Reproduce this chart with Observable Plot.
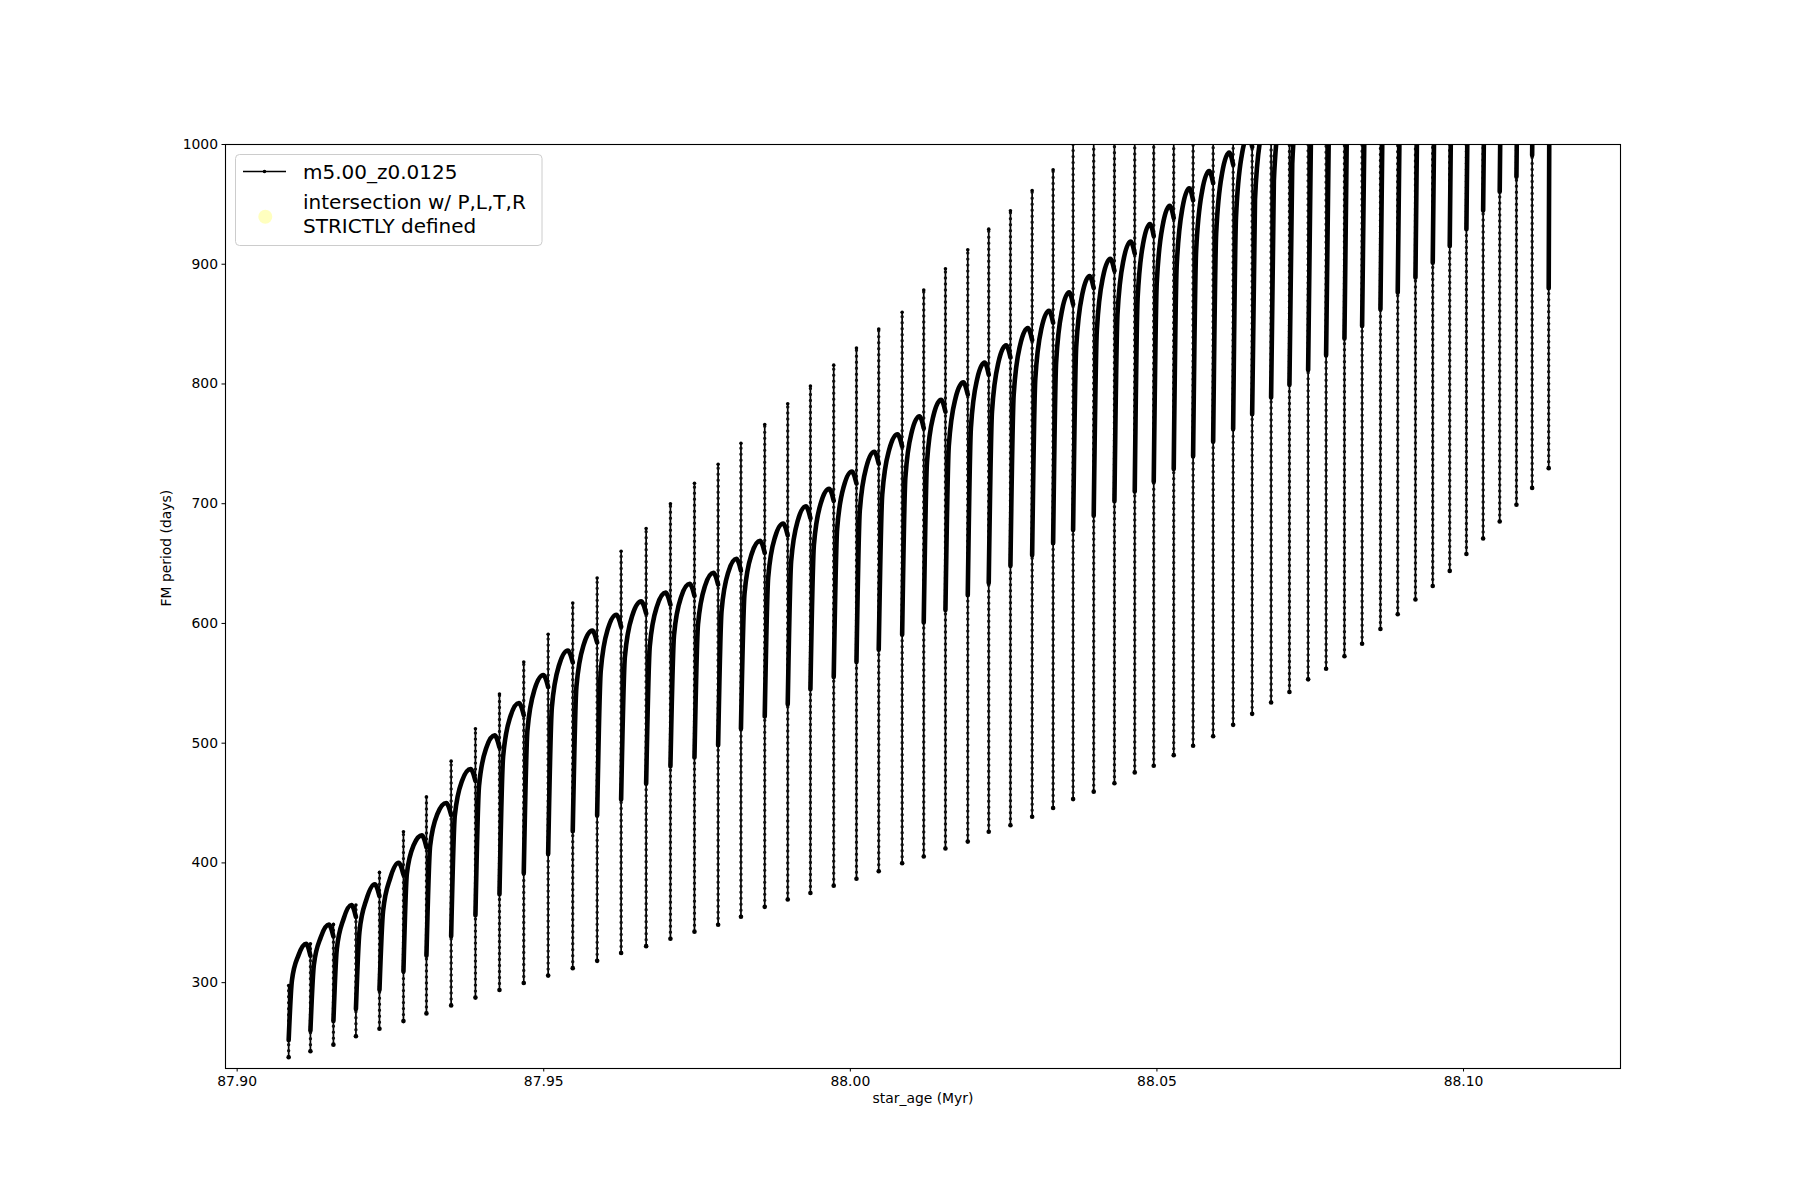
<!DOCTYPE html>
<html>
<head>
<meta charset="utf-8">
<script src="https://cdn.jsdelivr.net/npm/d3@7"></script>
<script src="https://cdn.jsdelivr.net/npm/@observablehq/plot@0.6"></script>
<style>
  html, body { margin: 0; padding: 0; background: #ffffff; }
  #chart { width: 1800px; height: 1200px; }
</style>
</head>
<body>
<div id="chart"></div>
<script>
// ---- Data (star_age in Myr, FM period in days) ----
// Age of each pulse (the vertical drop of the period), first entry = first model.
const pulseAge = [87.90840, 87.91195, 87.91570, 87.91937, 87.92321, 87.92712, 87.93087, 87.93490, 87.93886, 87.94278,
  87.94674, 87.95072, 87.95473, 87.95871, 87.96262, 87.96670, 87.97066, 87.97458, 87.97844, 87.98216,
  87.98604, 87.98979, 87.99349, 87.99729, 88.00100, 88.00463, 88.00845, 88.01197, 88.01551, 88.01915,
  88.02257, 88.02611, 88.02965, 88.03307, 88.03633, 88.03969, 88.04307, 88.04638, 88.04948, 88.05274,
  88.05590, 88.05917, 88.06243, 88.06553, 88.06862, 88.07161, 88.07466, 88.07759, 88.08058, 88.08346,
  88.08645, 88.08927, 88.09216, 88.09498, 88.09775, 88.10047, 88.10320, 88.10590, 88.10863, 88.11119,
  88.11389];
const lastAge = 88.1152;
// Minimum period reached after each pulse
const minP = [237.7, 242.7, 248.2, 255.2, 261.5, 267.9, 274.3, 281.0, 287.5, 293.9,
  299.7, 305.9, 312.1, 318.2, 324.7, 330.5, 336.7, 342.6, 348.4, 355.0,
  363.3, 369.5, 374.9, 381.0, 386.8, 393.0, 399.7, 405.4, 412.0, 417.8,
  426.0, 431.5, 438.5, 445.9, 453.3, 459.5, 466.5, 475.6, 481.2, 490.0,
  497.8, 505.8, 515.3, 524.5, 534.0, 542.8, 553.3, 562.1, 572.6, 583.1,
  595.4, 607.7, 620.0, 631.3, 643.9, 658.0, 671.0, 685.1, 699.1, 713.2, 729.7];
// Top of the short excursion at each pulse
const spikeP = [297.6, 332.4, 348.5, 364.8, 392, 426, 455, 485, 512, 541,
  567.7, 591, 617, 638, 660.3, 679.3, 700, 717, 733, 750.4,
  766.1, 783.5, 798.3, 815.7, 830.1, 845.9, 859.9, 878.5, 896.2, 912.0,
  929.3, 944.6, 961.6, 978.9, 1010, 1027, 1044, 1061, 1078, 1095,
  1112, 1129, 1146, 1163, 1180, 1197, 1214, 1231, 1248, 1265,
  1282, 1299, 1316, 1333, 1350, 1367, 1384, 1401, 1418, 1435, 1452];
// Period where the following rise leaves the vertical drop
const sepP = [252, 260, 268, 278, 294, 309.4, 322.6, 338.7, 356.3, 373.9,
  391.4, 407.5, 426.5, 439.7, 452.9, 466.1, 480.7, 488.0, 498.3, 512.0,
  522.4, 532.6, 545.1, 555.4, 567.8, 578.1, 590.5, 600.8, 611.2, 623.5,
  633.9, 648.3, 657, 667, 678, 690, 702.1, 710.3, 718.4, 729.0,
  739.6, 751.8, 762.4, 774.7, 788.7, 799.3, 811.6, 823.9, 837.9, 848.5,
  862.5, 876.5, 888.9, 901.2, 915.3, 929.3, 945, 960.6, 973, 991, 880];
// Inter-pulse rise: period at 15% and 45% of the interval, at its top (80%), and at the next pulse
const archQ = [301.8, 314.9, 328.0, 342.6, 359.8, 391.2, 414.3, 439.3, 464.4, 488.8,
  510.6, 529.8, 547.1, 560.4, 572.1, 581.0, 590.4, 599.2, 610.4, 625.0,
  638.4, 651.6, 665.6, 678.9, 694.2, 707.6, 722.0, 734.7, 748.1, 763.4,
  776.7, 791.1, 804.0, 817.8, 830.7, 844.4, 858.3, 871.1, 884.2, 897.8,
  911.1, 925.6, 939.2, 954.2, 969.6, 984.1, 999.1, 1014, 1029, 1044,
  1059.4, 1074.9, 1089.9, 1104.8, 1120.3, 1135.7, 1151.6, 1167.5, 1182.5, 1199.1, 1150];
const archH = [322.8, 337.9, 353.2, 369.7, 387.4, 415.0, 441.1, 468.6, 496.0, 522.3,
  545.3, 565.5, 582.3, 595.6, 606.8, 614.5, 622.4, 631.6, 643.1, 658.0,
  672.2, 686.3, 700.7, 714.9, 731.1, 745.3, 760.3, 773.8, 788.0, 804.2,
  818.3, 832.8, 846.9, 861.8, 875.3, 889.5, 903.8, 918.0, 932.6, 947.0,
  961.1, 976.3, 990.8, 1006.5, 1022.4, 1038.0, 1053.8, 1069.5, 1085.4, 1101,
  1116.9, 1132.7, 1148.5, 1164.2, 1180.1, 1195.9, 1211.9, 1227.9, 1243.6, 1259.8, 1250];
const archPeak = [332.4, 348.5, 364.8, 382.2, 400.1, 423.0, 450.0, 478.4, 506.5, 533.5,
  556.9, 577.4, 594.0, 607.3, 618.4, 625.7, 633.1, 642.4, 654.0, 669.0,
  683.5, 697.9, 712.4, 726.9, 743.4, 757.9, 773.1, 786.8, 801.3, 817.8,
  832.2, 846.7, 861.2, 876.5, 890.1, 904.5, 919.0, 933.6, 948.7, 963.4,
  977.8, 993.2, 1008, 1024, 1040, 1056, 1072, 1088, 1104, 1120,
  1136, 1152, 1168, 1184, 1200, 1216, 1232, 1248, 1264, 1280, 1290];
const archEnd = [322.4, 338.5, 354.8, 372.2, 390.1, 413.0, 440.0, 468.4, 496.5, 523.5,
  546.9, 567.4, 584.0, 597.3, 608.4, 615.7, 623.1, 632.4, 644.0, 659.0,
  673.5, 687.9, 702.4, 716.9, 733.4, 747.9, 763.1, 776.8, 791.3, 807.8,
  822.2, 836.7, 851.2, 866.5, 880.1, 894.5, 909.0, 923.6, 938.7, 953.4,
  967.8, 983.2, 998, 1014, 1030, 1046, 1062, 1078, 1094, 1110,
  1126, 1142, 1158, 1174, 1190, 1206, 1222, 1238, 1254, 1270, 1300];
const xTicks = [87.90, 87.95, 88.00, 88.05, 88.10];
const yTicks = [300, 400, 500, 600, 700, 800, 900, 1000];
const seriesName = "m5.00_z0.0125";
const legendLabel2 = ["intersection w/ P,L,T,R", "STRICTLY defined"];

// ---- Tables built from the arrays ----
const edges = [...pulseAge, lastAge];
const pulses = pulseAge.map((age, i) => ({age, min: minP[i], spike: spikeP[i]}));
const readAt = [0, 0.15, 0.45, 0.8, 1];
const archPts = pulseAge.flatMap((a0, i) => {
  const a1 = edges[i + 1], c = a1 - a0;
  const vals = [sepP[i], archQ[i], archH[i], archPeak[i], archEnd[i]];
  return vals.map((P, j) => ({arch: i, age: a0 + readAt[j] * c, P}));
});

const chart = Plot.plot({
  width: 1800,
  height: 1200,
  marginLeft: 225,
  marginRight: 180,
  marginTop: 144,
  marginBottom: 132,
  style: {fontFamily: "DejaVu Sans, sans-serif", fontSize: "13.9px", color: "black", background: "white"},
  x: {domain: [87.8981, 88.1256]},
  y: {domain: [228.3, 1000]},
  marks: [
    Plot.ruleX(pulses, {x: "age", y1: "min", y2: "spike", stroke: "black", strokeWidth: 1.7, clip: true}),
    Plot.ruleX(pulses, {x: "age", y1: "min", y2: "spike", stroke: "#111", strokeWidth: 3.4,
      strokeDasharray: "0,6", strokeLinecap: "round", clip: true}),
    Plot.line(archPts, {x: "age", y: "P", z: "arch", curve: "monotone-x", stroke: "black",
      strokeWidth: 4.6, clip: true}),
    Plot.dot(pulses, {x: "age", y: "min", r: 2.3, fill: "black", stroke: null, clip: true}),
    Plot.dot(pulses.filter(d => d.spike < 1000), {x: "age", y: "spike", r: 1.8, fill: "black", stroke: null, clip: true}),
    Plot.frame({stroke: "black", strokeWidth: 1.1}),
    Plot.axisX({ticks: xTicks, tickFormat: d3.format(".2f"), tickSize: 3.5, tickPadding: 4,
      label: null, fontSize: 13.9, anchor: "bottom"}),
    Plot.axisY({ticks: yTicks, tickFormat: d3.format("d"), tickSize: 3.5, tickPadding: 4,
      label: null, fontSize: 13.9, anchor: "left"}),
    Plot.text(["star_age (Myr)"], {frameAnchor: "bottom", dy: 34, fontSize: 13.9, fill: "black"}),
    Plot.text(["FM period (days)"], {frameAnchor: "left", dx: -59, rotate: -90, fontSize: 13.9, fill: "black"})
  ]
});

document.getElementById("chart").appendChild(chart);

// ---- Legend (upper left, inside the axes) ----
const svg = d3.select(chart);
const lg = svg.append("g")
  .attr("font-family", "DejaVu Sans, sans-serif")
  .attr("font-size", 20)
  .attr("text-anchor", "start");
lg.append("rect").attr("x", 235.5).attr("y", 154.5).attr("width", 306.5).attr("height", 91)
  .attr("rx", 4).attr("fill", "white").attr("fill-opacity", 0.8).attr("stroke", "#cccccc");
lg.append("line").attr("x1", 243).attr("x2", 286).attr("y1", 171.5).attr("y2", 171.5)
  .attr("stroke", "black").attr("stroke-width", 1.5);
lg.append("circle").attr("cx", 264.5).attr("cy", 171.5).attr("r", 1.8).attr("fill", "black");
lg.append("text").attr("x", 303).attr("y", 179).attr("fill", "black")
  .attr("text-anchor", "start").text(seriesName);
lg.append("circle").attr("cx", 265.3).attr("cy", 216.7).attr("r", 7)
  .attr("fill", "#ffff80").attr("fill-opacity", 0.5);
lg.append("text").attr("x", 303).attr("y", 209).attr("fill", "black")
  .attr("text-anchor", "start").text(legendLabel2[0]);
lg.append("text").attr("x", 303).attr("y", 232.5).attr("fill", "black")
  .attr("text-anchor", "start").text(legendLabel2[1]);
</script>
</body>
</html>
